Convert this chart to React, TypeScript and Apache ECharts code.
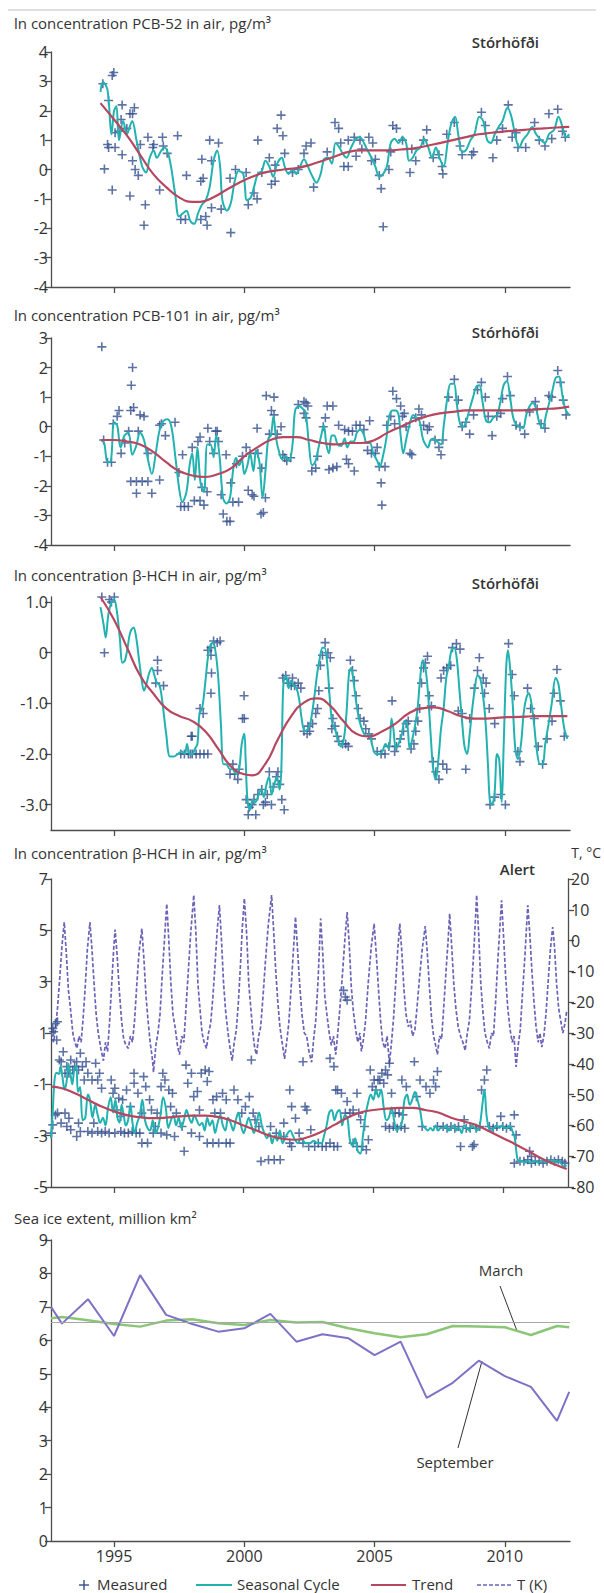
import React, { useEffect, useRef } from "react";
import * as echarts from "echarts";

// ---------- shared axis values ----------
const X_MIN = 1992.58;
const X_MAX = 2012.5;
const YEAR_TICKS = [1995, 2000, 2005, 2010];

// ---------- Panel 1: PCB-52, Stórhöfði ----------
const pcb52Measured = [
  [1994.57, 2.92], [1994.63, 0.02], [1994.75, 0.85], [1994.79, 0.75], [1994.93, -0.7], [1995.04, 0.75], [1994.93, 3.2], [1994.99, 3.3],
  [1994.79, 2.35], [1995.04, 1.25], [1995.27, 1.7], [1995.31, 2.2], [1995.19, 1.3], [1995.31, 0.5], [1995.49, 1.4], [1995.61, 1.9],
  [1995.78, 2.1], [1995.71, 1.9], [1995.61, -0.9], [1996.01, 0.85], [1995.71, 0.3], [1995.81, 0.0], [1996.3, 1.1], [1995.93, -0.2],
  [1996.2, -1.2], [1996.15, -1.9], [1996.52, 0.85], [1996.49, 0.75], [1996.86, 1.1], [1996.75, -0.7], [1996.89, 0.8], [1997.04, 0.55],
  [1997.44, 1.15], [1997.78, -0.2], [1997.56, -1.7], [1997.74, -1.7], [1998.37, 0.35], [1998.33, -0.4], [1998.33, -1.7], [1998.57, -1.9],
  [1998.52, -1.6], [1998.67, 1.0], [1999.01, 0.9], [1998.74, 0.3], [1998.74, -1.3], [1999.11, -1.35], [1998.42, -0.3], [1999.48, -2.15],
  [1999.45, -0.3], [1999.66, 0.0], [2000.15, -1.2], [2000.49, -1.0], [2000.37, -0.8], [2000.52, 1.0], [2000.07, -0.1], [2001.04, -0.5],
  [2000.67, -0.1], [2000.96, 0.4], [2001.18, 0.15], [2001.26, 1.4], [2001.41, 1.85], [2001.48, 1.15], [2001.55, 0.55], [2001.18, -0.4],
  [2002.37, 0.8], [2002.56, 0.9], [2002.66, -0.6], [2002.29, 0.55], [2001.85, -0.1], [2002.07, 0.0], [2003.48, 1.6], [2003.62, 1.4],
  [2003.18, 0.6], [2003.82, 0.1], [2003.99, 0.1], [2003.7, 0.9], [2003.99, 1.0], [2004.22, 1.1], [2004.44, 1.0], [2004.29, 0.45],
  [2004.78, 1.1], [2004.93, 0.9], [2004.51, 0.7], [2004.88, 0.3], [2005.03, 0.35], [2005.25, -0.65], [2005.33, -1.95], [2005.55, 0.0],
  [2005.18, -0.2], [2005.7, 1.5], [2005.84, 1.4], [2006.07, 1.0], [2005.62, 0.6], [2006.36, -0.1], [2006.58, 0.3], [2006.43, 0.7],
  [2007.0, 1.35], [2006.88, 1.0], [2007.25, 0.4], [2007.47, 0.5], [2007.59, 0.1], [2007.62, -0.15], [2007.77, 1.2], [2008.06, 1.6],
  [2008.28, 0.8], [2008.36, 0.5], [2008.73, 0.5], [2008.8, 0.6], [2009.1, 1.95], [2009.25, 1.5], [2009.54, 0.4], [2009.69, 1.0],
  [2009.91, 1.4], [2010.13, 2.2], [2010.28, 1.1], [2010.43, 1.25], [2010.5, 0.75], [2010.8, 0.75], [2011.14, 1.6], [2011.32, 1.0],
  [2011.54, 0.8], [2011.69, 1.9], [2012.03, 2.05], [2012.21, 1.3], [2012.32, 1.1], [2011.8, 1.05],
];
const pcb52Seasonal = [
  [1994.48, 2.64], [1994.57, 2.98], [1994.75, 2.7], [1994.9, 1.2], [1995.0, 2.0], [1995.09, 2.15], [1995.19, 1.0], [1995.35, 1.65],
  [1995.49, 1.2], [1995.64, 1.55], [1995.7, 1.65], [1995.86, 1.0], [1996.08, 0.1], [1996.23, -0.1], [1996.37, 0.4], [1996.52, 0.65],
  [1996.64, 0.4], [1996.82, 0.65], [1996.94, 0.75], [1997.12, 0.4], [1997.34, -0.8], [1997.49, -1.6], [1997.63, -1.5], [1997.78, -1.4],
  [1997.93, -1.75], [1998.08, -1.85], [1998.22, -1.5], [1998.37, -1.2], [1998.52, -1.05], [1998.67, -0.6], [1998.82, 0.3], [1998.96, 0.65],
  [1999.07, 0.1], [1999.16, -1.05], [1999.33, -1.4], [1999.48, -1.15], [1999.63, -0.4], [1999.78, -0.05], [1999.96, -0.15], [2000.1, -1.05],
  [2000.25, -0.95], [2000.37, -0.6], [2000.52, -0.15], [2000.67, -0.05], [2000.81, 0.3], [2000.96, 0.1], [2001.11, -0.25], [2001.26, 0.2],
  [2001.44, 0.4], [2001.55, 0.1], [2001.7, -0.15], [2001.85, 0.0], [2002.0, -0.15], [2002.14, 0.1], [2002.29, 0.35], [2002.44, 0.1],
  [2002.62, -0.25], [2002.77, -0.45], [2002.93, -0.15], [2003.06, 0.35], [2003.21, 0.4], [2003.36, 0.2], [2003.5, 0.9], [2003.65, 0.75],
  [2003.77, 0.55], [2003.92, 0.4], [2004.1, 0.75], [2004.29, 1.05], [2004.44, 1.1], [2004.59, 0.9], [2004.73, 0.65], [2004.88, 0.4],
  [2005.03, 0.1], [2005.18, -0.25], [2005.33, -0.15], [2005.47, 0.1], [2005.62, 0.9], [2005.77, 1.05], [2005.92, 0.9], [2006.07, 1.1],
  [2006.21, 0.9], [2006.32, 0.3], [2006.46, 0.4], [2006.61, 0.65], [2006.76, 0.75], [2006.9, 1.05], [2007.06, 0.75], [2007.21, 0.4],
  [2007.35, 0.75], [2007.49, 0.4], [2007.65, 0.1], [2007.8, 0.9], [2007.94, 1.55], [2008.09, 1.8], [2008.21, 1.2], [2008.36, 0.6],
  [2008.5, 0.65], [2008.68, 1.0], [2008.83, 1.2], [2009.02, 1.8], [2009.17, 1.65], [2009.32, 1.0], [2009.46, 0.9], [2009.61, 1.2],
  [2009.76, 1.45], [2009.91, 1.65], [2010.1, 2.1], [2010.25, 1.8], [2010.41, 1.1], [2010.55, 0.75], [2010.69, 1.0], [2010.87, 1.2],
  [2011.05, 1.45], [2011.2, 1.2], [2011.39, 1.0], [2011.54, 0.9], [2011.69, 1.2], [2011.89, 1.35], [2012.06, 1.8], [2012.21, 1.45],
  [2012.35, 1.1], [2012.47, 1.2],
];
const pcb52Trend = [
  [1994.48, 2.26], [1995.0, 1.7], [1995.5, 1.15], [1996.0, 0.5], [1996.5, -0.15], [1997.0, -0.6], [1997.5, -0.95], [1998.0, -1.1],
  [1998.3, -1.1], [1998.8, -0.95], [1999.3, -0.7], [1999.8, -0.45], [2000.3, -0.25], [2000.8, -0.1], [2001.5, 0.0], [2002.0, 0.05],
  [2002.5, 0.15], [2003.0, 0.3], [2003.5, 0.45], [2004.0, 0.6], [2004.5, 0.65], [2005.0, 0.65], [2005.5, 0.65], [2006.0, 0.68],
  [2006.5, 0.72], [2007.0, 0.8], [2007.5, 0.9], [2008.0, 1.0], [2008.5, 1.1], [2009.0, 1.2], [2009.5, 1.25], [2010.0, 1.3],
  [2010.5, 1.33], [2011.0, 1.37], [2011.5, 1.4], [2012.0, 1.43], [2012.47, 1.45],
];

// ---------- Panel 2: PCB-101, Stórhöfði ----------
const pcb101Measured = [
  [1994.53, 2.7], [1994.6, -0.45], [1994.75, -1.2], [1994.9, -1.2], [1994.97, 0.1], [1995.12, 0.35], [1995.19, 0.55], [1995.27, -0.9],
  [1995.41, -0.55], [1995.56, -0.15], [1995.64, 0.55], [1995.71, 2.0], [1995.66, 1.4], [1995.75, 0.65], [1995.64, -1.85], [1995.86, -1.85],
  [1996.08, -1.85], [1996.3, -1.85], [1995.86, -2.25], [1996.45, -2.25], [1995.93, -0.15], [1996.0, 0.4], [1996.15, 0.35], [1996.3, -0.9],
  [1996.75, -1.8], [1996.75, 0.05], [1996.82, 0.1], [1996.97, -0.3], [1997.34, 0.15], [1997.49, -1.55], [1997.63, -0.95], [1997.56, -2.7],
  [1997.7, -2.7], [1997.85, -2.7], [1998.0, -0.7], [1998.08, -2.5], [1998.22, -0.5], [1998.3, -0.35], [1998.3, -2.5], [1998.37, -2.05],
  [1998.45, -2.65], [1998.57, -2.2], [1998.6, -0.05], [1998.67, -0.5], [1998.82, -0.9], [1998.9, -0.15], [1998.96, -0.15], [1999.01, -0.5],
  [1999.11, -2.3], [1999.19, -2.95], [1999.3, -0.95], [1999.33, -3.2], [1999.45, -3.2], [1999.48, -1.9], [1999.56, -2.55], [1999.7, -1.25],
  [1999.78, -2.55], [1999.93, -1.0], [2000.07, -0.7], [2000.15, -2.15], [2000.3, -2.3], [2000.22, -0.9], [2000.37, -2.35], [2000.49, -0.05],
  [2000.52, -0.9], [2000.64, -2.95], [2000.73, -2.9], [2000.67, -1.4], [2000.81, -2.4], [2000.84, 1.05], [2001.14, 1.0], [2001.04, 0.55],
  [2001.14, 0.4], [2000.96, -0.25], [2001.26, -0.25], [2001.41, 0.0], [2001.48, -0.95], [2001.55, -1.05], [2001.63, -1.15], [2001.78, -1.05],
  [2002.07, 0.75], [2002.29, 0.85], [2002.37, 0.8], [2002.44, 0.7], [2002.29, 0.45], [2002.37, 0.3], [2002.59, -1.5], [2002.74, -1.4],
  [2002.81, -1.0], [2003.03, 0.0], [2003.11, 0.3], [2003.18, 0.7], [2003.4, 0.7], [2003.25, -1.45], [2003.4, -1.4], [2003.55, -1.35],
  [2003.62, 0.05], [2003.85, -0.1], [2004.0, -0.15], [2003.92, -1.1], [2004.0, -1.25], [2004.22, -1.5], [2004.15, -0.15], [2004.29, 0.05],
  [2004.44, 0.05], [2004.59, -0.1], [2004.81, 0.2], [2004.73, -0.8], [2004.88, -0.9], [2005.1, -0.7], [2005.03, -0.9], [2005.18, -1.35],
  [2005.25, -1.9], [2005.28, -2.65], [2005.4, -1.35], [2005.47, 0.05], [2005.62, 0.35], [2005.7, 1.2], [2005.84, 0.95], [2006.0, 0.7],
  [2006.14, 0.45], [2005.77, 0.1], [2006.07, 0.35], [2006.21, 0.0], [2006.36, -0.9], [2006.43, -0.95], [2006.58, 0.3], [2006.7, 0.6],
  [2006.8, 0.4], [2006.88, 0.05], [2007.03, -0.1], [2007.1, 0.0], [2007.32, -0.45], [2007.47, -0.7], [2007.55, -0.95], [2007.62, -0.45],
  [2007.84, 1.0], [2008.06, 1.6], [2008.21, 0.9], [2008.36, 0.0], [2008.5, 0.15], [2008.65, -0.25], [2008.8, 0.4], [2008.95, 1.25],
  [2009.1, 1.5], [2009.25, 1.0], [2009.36, 0.35], [2009.51, -0.3], [2009.69, 0.35], [2009.84, 0.45], [2009.91, 0.95], [2010.1, 1.7],
  [2010.21, 1.05], [2010.43, 0.05], [2010.58, 0.0], [2010.76, -0.25], [2010.95, 0.5], [2011.17, 0.85], [2011.24, 0.6], [2011.39, 0.1],
  [2011.54, -0.05], [2011.69, 1.05], [2011.8, 1.0], [2012.03, 1.9], [2012.13, 1.5], [2012.24, 0.9], [2012.35, 0.4],
];
const pcb101Seasonal = [
  [1994.5, -0.45], [1994.62, -0.55], [1994.75, -1.2], [1994.88, -1.15], [1995.0, 0.15], [1995.12, 0.05], [1995.25, -0.7], [1995.4, -0.3],
  [1995.55, -0.2], [1995.7, -0.95], [1995.85, -0.65], [1996.0, -0.2], [1996.15, -0.45], [1996.3, -1.1], [1996.45, -1.6], [1996.6, -0.9],
  [1996.75, -0.1], [1996.9, 0.2], [1997.05, 0.25], [1997.2, 0.0], [1997.35, -1.0], [1997.5, -2.1], [1997.62, -2.55], [1997.78, -2.2],
  [1997.9, -1.3], [1998.0, -0.9], [1998.1, -1.8], [1998.2, -0.7], [1998.32, -1.9], [1998.45, -2.2], [1998.58, -0.6], [1998.7, -0.6],
  [1998.82, -1.0], [1998.92, -0.3], [1999.05, -1.0], [1999.18, -2.4], [1999.32, -2.6], [1999.45, -2.4], [1999.58, -1.4], [1999.68, -1.05],
  [1999.8, -1.3], [1999.9, -1.1], [2000.0, -1.6], [2000.12, -1.3], [2000.22, -0.9], [2000.35, -1.5], [2000.45, -0.8], [2000.58, -1.2],
  [2000.7, -2.4], [2000.82, -1.4], [2000.92, -0.4], [2001.02, -0.3], [2001.12, 0.35], [2001.22, -0.4], [2001.35, -0.9], [2001.45, -1.1],
  [2001.58, -1.0], [2001.72, -1.15], [2001.85, -0.6], [2001.95, 0.55], [2002.1, 0.7], [2002.25, 0.6], [2002.35, 0.5], [2002.48, -0.6],
  [2002.6, -1.3], [2002.72, -1.2], [2002.85, -0.7], [2002.95, -0.3], [2003.05, 0.05], [2003.15, -0.6], [2003.25, -0.9], [2003.35, -0.3],
  [2003.45, -0.3], [2003.58, -0.6], [2003.72, -0.65], [2003.85, -0.4], [2003.95, -0.7], [2004.08, -0.5], [2004.2, -0.5], [2004.32, -0.2],
  [2004.45, -0.1], [2004.58, -0.25], [2004.7, -0.55], [2004.82, -0.55], [2004.95, -0.9], [2005.1, -1.15], [2005.2, -1.35], [2005.32, -1.0],
  [2005.45, -0.4], [2005.55, 0.3], [2005.68, 0.55], [2005.8, 0.55], [2005.92, 0.4], [2006.0, -0.3], [2006.1, -0.9], [2006.22, -0.4],
  [2006.35, 0.1], [2006.48, 0.4], [2006.6, 0.3], [2006.72, 0.2], [2006.85, -0.4], [2006.95, -0.6], [2007.05, -0.7], [2007.15, -0.45],
  [2007.28, -0.4], [2007.4, -0.5], [2007.55, -0.6], [2007.65, 0.0], [2007.78, 0.9], [2007.92, 1.45], [2008.05, 1.45], [2008.15, 0.8],
  [2008.28, 0.1], [2008.4, 0.0], [2008.52, 0.2], [2008.65, 0.6], [2008.78, 1.0], [2008.9, 1.35], [2009.02, 1.4], [2009.15, 0.8],
  [2009.28, 0.2], [2009.42, 0.15], [2009.55, 0.3], [2009.7, 0.4], [2009.82, 0.8], [2009.95, 1.4], [2010.08, 1.55], [2010.2, 1.0],
  [2010.32, 0.3], [2010.45, 0.05], [2010.58, 0.0], [2010.7, -0.05], [2010.82, 0.4], [2010.95, 0.7], [2011.08, 0.8], [2011.2, 0.6],
  [2011.32, 0.15], [2011.45, -0.05], [2011.58, 0.4], [2011.7, 0.8], [2011.82, 1.2], [2011.95, 1.65], [2012.08, 1.7], [2012.2, 1.1],
  [2012.32, 0.6], [2012.47, 0.4],
];
const pcb101Trend = [
  [1994.5, -0.45], [1995.0, -0.45], [1995.5, -0.5], [1996.0, -0.6], [1996.5, -0.85], [1997.0, -1.2], [1997.5, -1.5], [1998.0, -1.65],
  [1998.5, -1.7], [1999.0, -1.6], [1999.5, -1.4], [2000.0, -1.0], [2000.5, -0.7], [2001.0, -0.45], [2001.5, -0.35], [2002.0, -0.35],
  [2002.5, -0.45], [2003.0, -0.55], [2003.5, -0.6], [2004.0, -0.55], [2004.5, -0.55], [2005.0, -0.45], [2005.5, -0.2], [2006.0, 0.0],
  [2006.5, 0.2], [2007.0, 0.35], [2007.5, 0.45], [2008.0, 0.5], [2008.5, 0.55], [2009.0, 0.55], [2009.5, 0.55], [2010.0, 0.55],
  [2010.5, 0.55], [2011.0, 0.57], [2011.5, 0.6], [2012.0, 0.62], [2012.47, 0.68],
];

// ---------- Panel 3: beta-HCH, Stórhöfði ----------
const hchStorMeasured = [
  [1994.53, 1.1], [1994.63, 0.0], [1994.82, 1.05], [1994.9, 1.0], [1995.01, 1.1], [1996.67, -0.15], [1996.67, -0.35], [1996.6, -0.6],
  [1996.9, -0.65], [1998.3, -1.1], [1998.42, -1.2], [1997.96, -1.65], [1998.0, -1.65], [1997.56, -2.0], [1997.7, -2.0], [1997.85, -2.0],
  [1998.0, -2.0], [1998.15, -2.0], [1998.3, -2.0], [1998.45, -2.0], [1998.6, -2.0], [1997.93, -2.0], [1998.6, 0.05], [1998.72, 0.1],
  [1998.82, 0.23], [1998.96, 0.2], [1999.07, 0.23], [1998.72, -0.05], [1998.74, -0.4], [1998.72, -0.8], [1999.56, -2.2], [1999.63, -2.4],
  [1999.45, -2.4], [1999.8, -2.3], [1999.75, -2.5], [1999.99, -0.85], [1999.93, -1.3], [2000.0, -1.3], [2000.07, -2.9], [2000.19, -3.05],
  [2000.15, -3.2], [2000.3, -3.0], [2000.37, -2.9], [2000.44, -3.2], [2000.52, -2.8], [2000.67, -2.7], [2000.73, -3.0], [2000.81, -2.95],
  [2000.88, -2.8], [2000.96, -2.35], [2001.04, -3.0], [2001.11, -2.65], [2001.23, -2.45], [2001.29, -2.35], [2001.36, -2.6], [2001.44, -2.9],
  [2001.53, -3.1], [2001.48, -0.5], [2001.59, -0.45], [2001.7, -0.6], [2001.8, -0.65], [2001.85, -0.5], [2001.93, -0.65], [2002.07, -0.6],
  [2002.17, -0.7], [2002.29, -1.55], [2002.41, -1.6], [2002.51, -1.55], [2002.44, -1.45], [2002.62, -1.4], [2002.74, -1.2], [2002.81, -1.1],
  [2002.86, -0.75], [2002.92, -0.25], [2003.0, -0.05], [2003.1, 0.2], [2003.21, 0.0], [2003.3, -0.1], [2003.25, -0.7], [2003.4, -1.3],
  [2003.36, -1.5], [2003.48, -1.45], [2003.57, -1.65], [2003.62, -1.75], [2003.77, -1.8], [2003.89, -1.8], [2003.99, -1.85], [2004.07, -0.15],
  [2004.15, -0.35], [2004.22, -0.55], [2004.29, -0.85], [2004.37, -1.1], [2004.44, -1.3], [2004.59, -1.35], [2004.66, -1.5], [2004.78, -1.6],
  [2004.88, -1.7], [2005.1, -1.95], [2005.25, -2.0], [2005.4, -2.0], [2005.55, -1.85], [2005.67, -0.95], [2005.77, -1.95], [2005.84, -1.85],
  [2005.99, -1.7], [2006.11, -1.55], [2006.21, -1.4], [2006.29, -1.35], [2006.4, -1.9], [2006.51, -1.8], [2006.58, -1.55], [2006.66, -1.35],
  [2006.73, -1.1], [2006.8, -0.6], [2006.88, -0.3], [2006.95, -0.2], [2007.03, -0.07], [2007.1, -0.85], [2007.18, -1.05], [2007.25, -2.15],
  [2007.35, -2.35], [2007.47, -2.5], [2007.62, -2.2], [2007.77, -2.3], [2007.55, -0.5], [2007.65, -0.35], [2007.77, -0.3], [2007.92, -0.25],
  [2007.99, 0.1], [2008.14, 0.18], [2008.28, 0.07], [2008.21, -1.15], [2008.36, -1.2], [2008.5, -2.3], [2008.65, -1.3], [2008.83, -0.7],
  [2008.95, -0.35], [2009.02, -0.1], [2009.17, -0.5], [2009.28, -0.6], [2009.22, -0.8], [2009.4, -1.1], [2009.61, -1.4], [2009.43, -3.0],
  [2009.61, -2.85], [2009.84, -2.8], [2010.02, -3.0], [2010.14, 0.18], [2010.28, -0.43], [2010.36, -0.85], [2010.5, -1.95], [2010.58, -2.15],
  [2010.87, -0.7], [2010.99, -1.1], [2011.13, -1.3], [2011.28, -1.85], [2011.45, -2.2], [2011.62, -1.7], [2011.81, -1.35], [2011.89, -0.8],
  [2012.0, -0.33], [2012.13, -0.95], [2012.28, -1.65],
];
const hchStorSeasonal = [
  [1994.48, 0.9], [1994.6, 0.55], [1994.68, 0.3], [1994.78, 0.75], [1994.9, 1.0], [1995.0, 1.05], [1995.1, 0.85], [1995.22, 0.3],
  [1995.32, -0.2], [1995.42, -0.15], [1995.52, 0.1], [1995.62, 0.4], [1995.75, 0.5], [1995.85, 0.3], [1995.95, -0.1], [1996.05, -0.5],
  [1996.15, -0.75], [1996.25, -0.6], [1996.35, -0.4], [1996.45, -0.3], [1996.55, -0.45], [1996.65, -0.6], [1996.75, -0.65], [1996.85, -0.95],
  [1997.0, -1.6], [1997.15, -2.05], [1997.3, -2.05], [1997.45, -2.0], [1997.6, -1.95], [1997.72, -2.0], [1997.8, -1.8], [1997.9, -2.0],
  [1998.0, -2.0], [1998.1, -1.9], [1998.2, -1.8], [1998.28, -1.2], [1998.38, -1.1], [1998.5, -0.6], [1998.6, -0.1], [1998.7, 0.15],
  [1998.8, 0.2], [1998.9, 0.0], [1999.0, -0.5], [1999.1, -1.4], [1999.2, -2.2], [1999.3, -2.2], [1999.45, -2.3], [1999.55, -2.3],
  [1999.68, -2.4], [1999.8, -2.3], [1999.9, -1.8], [2000.0, -1.6], [2000.05, -2.1], [2000.12, -2.9], [2000.22, -3.1], [2000.32, -2.9],
  [2000.42, -2.95], [2000.55, -2.8], [2000.65, -2.7], [2000.75, -2.85], [2000.85, -2.6], [2000.95, -2.45], [2001.05, -2.8], [2001.15, -2.6],
  [2001.25, -2.45], [2001.35, -2.7], [2001.42, -2.3], [2001.5, -0.6], [2001.6, -0.45], [2001.7, -0.7], [2001.8, -0.55], [2001.9, -0.65],
  [2002.0, -0.7], [2002.1, -0.9], [2002.2, -1.3], [2002.32, -1.55], [2002.45, -1.5], [2002.55, -1.35], [2002.68, -0.9], [2002.8, -0.4],
  [2002.9, -0.1], [2003.0, 0.1], [2003.08, 0.1], [2003.18, -0.2], [2003.28, -0.9], [2003.38, -1.4], [2003.48, -1.5], [2003.58, -1.7],
  [2003.7, -1.85], [2003.82, -1.7], [2003.92, -1.2], [2004.02, -0.4], [2004.1, -0.3], [2004.2, -0.6], [2004.3, -1.0], [2004.42, -1.35],
  [2004.55, -1.55], [2004.68, -1.65], [2004.8, -1.6], [2004.92, -1.85], [2005.05, -2.0], [2005.18, -2.0], [2005.3, -1.95], [2005.42, -1.8],
  [2005.55, -1.9], [2005.65, -1.3], [2005.72, -1.5], [2005.82, -1.9], [2005.92, -1.8], [2006.05, -1.6], [2006.15, -1.35], [2006.25, -1.4],
  [2006.35, -1.9], [2006.45, -1.7], [2006.55, -1.45], [2006.65, -1.1], [2006.75, -0.5], [2006.85, -0.15], [2006.95, -0.3], [2007.05, -0.8],
  [2007.15, -1.6], [2007.25, -2.3], [2007.35, -2.5], [2007.45, -2.1], [2007.55, -1.5], [2007.65, -1.1], [2007.75, -0.5], [2007.85, -0.25],
  [2007.95, 0.05], [2008.05, 0.1], [2008.15, -0.1], [2008.25, -0.7], [2008.35, -1.3], [2008.45, -1.85], [2008.55, -2.0], [2008.65, -1.6],
  [2008.75, -1.1], [2008.85, -0.7], [2008.95, -0.45], [2009.05, -0.5], [2009.15, -0.8], [2009.25, -1.3], [2009.35, -2.2], [2009.42, -2.9],
  [2009.5, -3.0], [2009.6, -2.8], [2009.7, -2.0], [2009.78, -2.1], [2009.88, -2.95], [2009.95, -1.9], [2010.05, -0.3], [2010.12, 0.05],
  [2010.2, -0.3], [2010.3, -1.0], [2010.4, -1.9], [2010.5, -2.1], [2010.62, -1.8], [2010.72, -1.2], [2010.82, -0.9], [2010.92, -0.8],
  [2011.02, -1.0], [2011.12, -1.4], [2011.22, -1.9], [2011.35, -2.2], [2011.45, -2.2], [2011.55, -1.8], [2011.68, -1.4], [2011.8, -1.0],
  [2011.95, -0.5], [2012.05, -0.6], [2012.15, -1.0], [2012.28, -1.5], [2012.4, -1.7],
];
const hchStorTrend = [
  [1994.48, 1.1], [1995.0, 0.65], [1995.5, 0.1], [1996.0, -0.45], [1996.5, -0.8], [1997.0, -1.1], [1997.5, -1.25], [1998.0, -1.35],
  [1998.5, -1.55], [1999.0, -1.9], [1999.5, -2.25], [2000.0, -2.4], [2000.3, -2.42], [2000.8, -2.2], [2001.3, -1.7], [2001.8, -1.25],
  [2002.3, -0.98], [2002.8, -0.9], [2003.3, -1.05], [2003.8, -1.35], [2004.3, -1.6], [2004.8, -1.65], [2005.3, -1.55], [2005.8, -1.4],
  [2006.3, -1.2], [2006.8, -1.1], [2007.3, -1.08], [2007.8, -1.15], [2008.3, -1.25], [2008.8, -1.3], [2009.3, -1.3], [2009.8, -1.28],
  [2010.3, -1.27], [2010.8, -1.26], [2011.3, -1.25], [2011.8, -1.25], [2012.4, -1.25],
];

// ---------- Panel 4: beta-HCH, Alert, with air temperature ----------
const hchAlertMeasured = [
  [1992.6, -2.9], [1992.65, -2.58], [1992.75, -2.19], [1992.83, 1.44], [1992.68, 1.05], [1992.8, 0.73], [1992.75, 1.37], [1992.65, 1.18],
  [1992.9, -0.05], [1992.97, -0.12], [1993.05, 0.27], [1993.12, -0.57], [1993.19, -0.31], [1993.27, -0.57], [1993.34, -0.05], [1993.42, -0.44],
  [1993.49, -0.31], [1993.57, -0.12], [1993.64, -0.44], [1993.71, 0.21], [1993.79, -0.31], [1993.86, -0.83], [1993.93, -0.12], [1994.0, -0.57],
  [1994.16, -0.83], [1994.3, -0.18], [1994.38, -0.83], [1994.45, -0.57], [1994.53, -1.15], [1992.83, -2.12], [1992.97, -2.51], [1993.12, -2.12],
  [1993.19, -2.64], [1993.27, -2.32], [1993.34, -2.77], [1993.57, -3.03], [1993.64, -2.51], [1993.71, -2.84], [1994.0, -2.84], [1994.16, -2.9],
  [1994.23, -2.51], [1994.38, -2.84], [1994.53, -2.9], [1994.67, -2.84], [1994.82, -2.9], [1994.9, -0.83], [1994.97, -1.35], [1995.04, -1.15],
  [1995.12, -2.0], [1995.19, -1.54], [1995.27, -2.25], [1995.34, -1.6], [1995.04, -2.9], [1995.27, -2.84], [1995.41, -2.9], [1995.56, -2.9],
  [1995.71, -2.84], [1995.86, -2.9], [1996.0, -2.9], [1996.08, -3.29], [1996.3, -3.29], [1995.49, -1.22], [1995.64, -1.87], [1995.78, -0.57],
  [1995.78, -0.96], [1995.93, -1.35], [1996.08, -2.12], [1996.15, -0.7], [1996.23, -1.09], [1996.38, -1.6], [1996.45, -2.0], [1996.6, -2.64],
  [1996.67, -2.12], [1996.82, -1.09], [1996.89, -0.57], [1996.97, -0.83], [1997.12, -1.22], [1997.19, -1.87], [1996.52, -2.9], [1996.82, -2.9],
  [1997.04, -2.97], [1997.34, -3.03], [1997.71, -3.61], [1997.26, -1.35], [1997.41, -2.12], [1997.63, -2.64], [1997.78, -0.25], [1997.85, -0.96],
  [1997.99, -0.57], [1998.08, -1.48], [1998.22, -1.28], [1998.3, -2.0], [1998.37, -0.57], [1998.52, -0.44], [1998.6, -0.89], [1998.67, -0.5],
  [1998.82, -1.6], [1998.89, -2.12], [1998.96, -1.48], [1999.11, -2.12], [1999.19, -1.35], [1999.33, -1.6], [1997.99, -2.9], [1998.3, -3.03],
  [1998.6, -3.29], [1998.82, -3.29], [1999.04, -3.29], [1999.33, -3.29], [1999.48, -3.29], [1999.63, -1.22], [1999.78, -1.6], [1999.93, -2.12],
  [2000.07, -1.87], [2000.22, -1.48], [2000.37, -2.12], [2000.3, -0.05], [2000.44, -2.38], [2000.59, -2.64], [2000.67, -4.0], [2000.96, -3.94],
  [2001.18, -3.94], [2001.41, -3.94], [2001.26, -2.9], [2001.04, -2.64], [2001.55, -2.51], [2001.78, -1.22], [2001.85, -1.87], [2002.0, -2.32],
  [2002.14, -2.9], [2002.29, -0.12], [2002.37, -1.87], [2002.44, -2.0], [2002.59, -2.77], [2002.74, -3.42], [2002.88, -3.29], [2003.03, -3.42],
  [2003.18, -3.42], [2003.33, -3.29], [2003.48, -3.42], [2003.62, -3.42], [2001.78, -3.29], [2001.55, -3.03], [2001.85, -3.42], [2002.29, -3.29],
  [2002.51, -3.42], [2003.33, 0.01], [2003.48, -0.31], [2003.55, -1.22], [2003.62, -1.22], [2003.77, -1.35], [2003.92, -2.12], [2003.99, -1.67],
  [2004.1, -2.12], [2004.22, -2.0], [2004.37, -1.35], [2004.44, -2.12], [2003.85, 2.66], [2003.92, 2.4], [2003.99, 2.28], [2004.22, -3.29],
  [2004.37, -3.42], [2004.59, -3.42], [2004.73, -3.55], [2004.81, -3.16], [2004.51, -2.38], [2004.66, -2.64], [2004.88, -0.44], [2005.03, -0.83],
  [2004.96, -1.09], [2005.1, -1.22], [2005.18, -0.83], [2005.25, -0.83], [2005.33, -0.57], [2005.4, -0.96], [2005.47, -0.44], [2005.55, -0.63],
  [2005.62, -0.18], [2005.7, -1.35], [2005.47, -2.64], [2005.62, -2.71], [2005.77, -2.64], [2005.92, -2.71], [2006.07, -2.64], [2006.21, -2.71],
  [2005.84, -2.12], [2005.99, -2.12], [2006.14, -2.19], [2006.1, -0.83], [2006.27, -1.09], [2006.58, -0.12], [2006.66, -1.48], [2006.8, -0.83],
  [2006.88, -2.64], [2007.03, -1.09], [2007.18, -1.35], [2007.32, -0.83], [2007.4, -1.09], [2007.47, -0.5], [2007.47, -2.64], [2007.69, -2.64],
  [2007.84, -2.71], [2007.99, -2.64], [2008.14, -2.71], [2008.28, -2.64], [2008.36, -3.42], [2008.5, -2.38], [2008.58, -2.71], [2008.73, -2.71],
  [2008.82, -3.42], [2008.96, -2.71], [2009.1, -2.64], [2009.17, -1.22], [2009.28, -0.83], [2009.37, -0.44], [2009.47, -2.64], [2009.62, -2.71],
  [2009.76, -2.64], [2009.91, -2.25], [2009.99, -2.64], [2010.13, -2.71], [2010.28, -2.64], [2010.43, -2.19], [2010.5, -2.97], [2010.43, -4.07],
  [2010.65, -4.0], [2010.8, -4.0], [2010.95, -3.94], [2011.09, -4.07], [2011.24, -4.0], [2011.39, -4.0], [2011.54, -4.07], [2011.69, -4.0],
  [2011.84, -3.94], [2011.98, -4.0], [2012.13, -3.94], [2012.28, -4.0], [2012.38, -4.07], [2011.02, -3.61], [2011.09, -3.81], [2008.88, -3.35],
];
const hchAlertSeasonal = [
  [1992.58, -3.1], [1992.65, -2.0], [1992.72, -0.8], [1992.8, -0.55], [1992.88, -0.6], [1992.95, -0.3], [1993.02, -0.7], [1993.1, -1.2],
  [1993.18, -0.9], [1993.25, -0.2], [1993.33, -0.6], [1993.4, -1.0], [1993.48, -0.4], [1993.55, -0.3], [1993.62, -1.3], [1993.7, -1.1],
  [1993.8, -2.4], [1993.9, -2.3], [1994.0, -1.4], [1994.08, -1.6], [1994.18, -2.3], [1994.28, -1.8], [1994.38, -2.2], [1994.48, -2.5],
  [1994.58, -2.3], [1994.68, -2.6], [1994.78, -1.9], [1994.88, -1.5], [1994.97, -2.1], [1995.06, -1.6], [1995.14, -2.3], [1995.22, -2.5],
  [1995.3, -1.8], [1995.38, -2.2], [1995.46, -2.6], [1995.55, -2.4], [1995.64, -1.8], [1995.72, -2.5], [1995.8, -2.9], [1995.9, -2.5],
  [1996.0, -2.2], [1996.1, -1.6], [1996.2, -2.4], [1996.3, -2.7], [1996.4, -2.8], [1996.5, -2.4], [1996.6, -2.9], [1996.7, -2.7],
  [1996.8, -2.2], [1996.9, -1.5], [1997.0, -1.9], [1997.1, -2.7], [1997.2, -2.4], [1997.3, -2.2], [1997.4, -2.6], [1997.5, -2.3],
  [1997.6, -2.7], [1997.7, -2.4], [1997.8, -2.0], [1997.9, -2.3], [1998.0, -2.5], [1998.1, -2.2], [1998.2, -2.4], [1998.3, -2.6],
  [1998.4, -2.5], [1998.5, -2.8], [1998.6, -2.3], [1998.7, -2.6], [1998.8, -2.4], [1998.9, -2.9], [1999.0, -2.5], [1999.1, -2.2],
  [1999.2, -2.6], [1999.3, -2.8], [1999.4, -2.3], [1999.5, -2.5], [1999.6, -2.8], [1999.7, -2.4], [1999.8, -2.1], [1999.9, -2.6],
  [2000.0, -2.9], [2000.1, -2.6], [2000.2, -2.3], [2000.3, -2.6], [2000.4, -2.9], [2000.5, -2.5], [2000.6, -2.1], [2000.7, -2.6],
  [2000.8, -2.9], [2000.9, -3.1], [2001.0, -2.9], [2001.1, -3.3], [2001.2, -3.0], [2001.3, -3.2], [2001.4, -2.8], [2001.5, -3.3],
  [2001.6, -3.1], [2001.7, -2.9], [2001.8, -2.8], [2001.9, -3.0], [2002.0, -3.2], [2002.1, -3.3], [2002.2, -3.1], [2002.3, -3.2],
  [2002.4, -3.3], [2002.55, -3.3], [2002.7, -3.2], [2002.85, -3.3], [2003.0, -3.3], [2003.1, -3.0], [2003.2, -2.6], [2003.3, -2.1],
  [2003.4, -2.0], [2003.5, -2.4], [2003.6, -2.1], [2003.7, -2.0], [2003.8, -2.6], [2003.9, -2.2], [2004.0, -2.3], [2004.1, -3.2],
  [2004.2, -3.4], [2004.3, -3.1], [2004.4, -3.6], [2004.5, -3.7], [2004.6, -3.0], [2004.7, -2.2], [2004.8, -1.7], [2004.9, -1.4],
  [2005.0, -1.6], [2005.1, -1.2], [2005.2, -1.5], [2005.3, -1.2], [2005.4, -1.9], [2005.5, -2.4], [2005.6, -2.3], [2005.7, -1.9],
  [2005.8, -2.4], [2005.9, -2.8], [2006.0, -2.7], [2006.1, -2.5], [2006.2, -1.6], [2006.3, -1.4], [2006.4, -1.8], [2006.5, -1.6],
  [2006.6, -1.3], [2006.7, -1.6], [2006.8, -2.0], [2006.9, -2.6], [2007.0, -2.7], [2007.1, -2.8], [2007.2, -2.7], [2007.3, -2.8],
  [2007.4, -2.6], [2007.5, -2.8], [2007.6, -2.7], [2007.7, -2.7], [2007.8, -2.6], [2007.9, -2.8], [2008.0, -2.7], [2008.1, -2.6],
  [2008.2, -2.8], [2008.3, -2.7], [2008.4, -2.9], [2008.5, -2.6], [2008.6, -2.7], [2008.7, -2.8], [2008.8, -2.6], [2008.9, -2.7],
  [2009.0, -2.8], [2009.1, -2.6], [2009.2, -1.8], [2009.28, -1.2], [2009.36, -2.2], [2009.45, -2.7], [2009.55, -2.8], [2009.65, -2.7],
  [2009.75, -2.6], [2009.85, -2.7], [2009.95, -2.6], [2010.05, -2.7], [2010.15, -2.7], [2010.25, -2.6], [2010.35, -2.8], [2010.45, -3.1],
  [2010.55, -3.9], [2010.65, -4.0], [2010.75, -4.0], [2010.85, -4.05], [2010.95, -4.0], [2011.05, -4.05], [2011.15, -4.0], [2011.25, -4.0],
  [2011.35, -4.05], [2011.45, -4.0], [2011.55, -4.0], [2011.65, -4.05], [2011.75, -3.95], [2011.85, -4.0], [2011.95, -3.95], [2012.05, -4.05],
  [2012.15, -4.0], [2012.25, -4.1], [2012.35, -4.2], [2012.45, -4.15],
];
const hchAlertTrend = [
  [1992.6, -1.09], [1993.0, -1.15], [1993.5, -1.35], [1994.0, -1.6], [1994.5, -1.85], [1995.0, -2.05], [1995.5, -2.2], [1996.0, -2.28],
  [1996.5, -2.32], [1997.0, -2.3], [1997.5, -2.25], [1998.0, -2.22], [1998.5, -2.22], [1999.0, -2.27], [1999.5, -2.4], [2000.0, -2.6],
  [2000.5, -2.8], [2001.0, -3.0], [2001.5, -3.12], [2002.0, -3.16], [2002.5, -3.05], [2003.0, -2.85], [2003.5, -2.58], [2004.0, -2.3],
  [2004.5, -2.1], [2005.0, -2.0], [2005.5, -1.95], [2006.0, -1.92], [2006.5, -1.92], [2007.0, -2.0], [2007.5, -2.1], [2008.0, -2.3],
  [2008.5, -2.45], [2009.0, -2.6], [2009.5, -2.85], [2010.0, -3.1], [2010.5, -3.35], [2011.0, -3.62], [2011.5, -3.9], [2012.0, -4.12],
  [2012.45, -4.3],
];
const alertTemp = [
  [1992.6, -30], [1992.68, -33], [1992.75, -29], [1992.83, -22], [1992.92, -12], [1993.0, -2], [1993.09, 6], [1993.17, -4],
  [1993.25, -16], [1993.33, -22], [1993.42, -30], [1993.5, -33], [1993.58, -35], [1993.66, -31], [1993.74, -33], [1993.82, -25],
  [1993.9, -15], [1993.98, -3], [1994.08, 6], [1994.16, -3], [1994.24, -14], [1994.32, -24], [1994.4, -30], [1994.5, -35],
  [1994.6, -39], [1994.68, -33], [1994.76, -36], [1994.84, -26], [1994.92, -14], [1995.0, -2], [1995.05, 3.6], [1995.13, -5],
  [1995.21, -16], [1995.3, -26], [1995.38, -32], [1995.47, -34], [1995.56, -35], [1995.64, -31], [1995.72, -33], [1995.8, -26],
  [1995.88, -15], [1995.97, -4], [1996.08, 3.9], [1996.16, -6], [1996.24, -18], [1996.32, -26], [1996.4, -33], [1996.48, -38],
  [1996.53, -42.7], [1996.62, -34], [1996.7, -30], [1996.78, -24], [1996.86, -12], [1996.95, 0], [1997.04, 12], [1997.12, 0],
  [1997.2, -14], [1997.28, -24], [1997.36, -28], [1997.45, -34], [1997.53, -37], [1997.62, -31], [1997.7, -33], [1997.78, -22],
  [1997.87, -10], [1997.96, 2], [1998.08, 14.8], [1998.16, 3], [1998.24, -14], [1998.32, -22], [1998.4, -30], [1998.48, -33],
  [1998.57, -35], [1998.65, -30], [1998.73, -27], [1998.82, -18], [1998.9, -8], [1998.98, 3], [1999.07, 11.5], [1999.15, 0],
  [1999.23, -14], [1999.31, -23], [1999.4, -30], [1999.48, -35], [1999.56, -39], [1999.64, -33], [1999.72, -29], [1999.8, -20],
  [1999.88, -8], [1999.95, 4], [2000.03, 13.7], [2000.12, 2], [2000.2, -14], [2000.28, -22], [2000.36, -30], [2000.43, -35],
  [2000.5, -37], [2000.58, -31], [2000.66, -28], [2000.75, -18], [2000.84, -7], [2000.95, 5], [2001.08, 14.8], [2001.16, 3],
  [2001.24, -10], [2001.32, -20], [2001.4, -28], [2001.5, -34], [2001.58, -38.4], [2001.66, -33], [2001.74, -27], [2001.82, -17],
  [2001.9, -6], [2002.0, 7.7], [2002.08, -3], [2002.16, -14], [2002.25, -24], [2002.34, -30], [2002.43, -31], [2002.52, -36],
  [2002.62, -39.5], [2002.7, -32], [2002.78, -26], [2002.87, -13], [2002.97, 7.2], [2003.05, -4], [2003.13, -18], [2003.21, -24],
  [2003.3, -30], [2003.38, -34], [2003.46, -31], [2003.55, -37], [2003.63, -30], [2003.71, -22], [2003.8, -12], [2003.9, 0],
  [2003.99, 9.3], [2004.07, -1], [2004.15, -15], [2004.23, -23], [2004.32, -29], [2004.4, -33], [2004.48, -30], [2004.54, -36],
  [2004.62, -32], [2004.7, -26], [2004.8, -14], [2004.92, -2], [2005.03, 5.5], [2005.11, -4], [2005.2, -16], [2005.28, -26],
  [2005.36, -33], [2005.45, -35], [2005.53, -31], [2005.62, -40], [2005.7, -33], [2005.78, -25], [2005.86, -14], [2005.94, -3],
  [2006.02, 5.5], [2006.1, -4], [2006.18, -16], [2006.26, -24], [2006.35, -28], [2006.43, -26], [2006.51, -31], [2006.6, -29],
  [2006.68, -22], [2006.77, -13], [2006.88, -3], [2007.0, 4.7], [2007.08, -4], [2007.16, -15], [2007.24, -25], [2007.32, -31],
  [2007.4, -34], [2007.47, -37], [2007.55, -31], [2007.63, -32], [2007.71, -22], [2007.8, -10], [2007.88, 0], [2007.94, 8.8],
  [2008.02, -2], [2008.1, -14], [2008.18, -22], [2008.27, -28], [2008.36, -31], [2008.45, -33], [2008.54, -35.7], [2008.62, -30],
  [2008.7, -26], [2008.78, -16], [2008.88, -2], [2008.98, 14.8], [2009.06, 2], [2009.14, -14], [2009.22, -23], [2009.3, -30],
  [2009.39, -33], [2009.47, -35], [2009.55, -30], [2009.63, -31], [2009.71, -20], [2009.8, -6], [2009.88, 5], [2009.94, 13.1],
  [2010.02, 1], [2010.1, -12], [2010.18, -22], [2010.27, -29], [2010.35, -33], [2010.42, -31], [2010.5, -41], [2010.58, -34],
  [2010.66, -29], [2010.74, -18], [2010.84, -5], [2010.95, 11.5], [2011.03, 2], [2011.11, -10], [2011.19, -20], [2011.27, -28],
  [2011.35, -33], [2011.42, -30], [2011.49, -34.6], [2011.57, -31], [2011.65, -24], [2011.73, -14], [2011.82, -3], [2011.91, 4.4],
  [2011.98, -2], [2012.06, -14], [2012.14, -22], [2012.22, -26], [2012.3, -30], [2012.38, -27], [2012.45, -23],
];

// ---------- Panel 5: Arctic sea ice extent ----------
const iceYears = [1992.58, 1993, 1994, 1995, 1996, 1997, 1998, 1999, 2000, 2001, 2002, 2003, 2004, 2005, 2006, 2007, 2008, 2009, 2010, 2011, 2012, 2012.47];
const iceMarch = [6.66, 6.7, 6.6, 6.49, 6.41, 6.59, 6.63, 6.51, 6.46, 6.61, 6.53, 6.55, 6.36, 6.21, 6.09, 6.18, 6.43, 6.41, 6.39, 6.16, 6.43, 6.39];
const iceSeptember = [7.0, 6.5, 7.23, 6.13, 7.95, 6.76, 6.49, 6.26, 6.36, 6.79, 5.96, 6.18, 6.06, 5.56, 5.96, 4.28, 4.73, 5.39, 4.93, 4.61, 3.59, 4.46];
const iceReference = 6.54;

// ---------- styles ----------
const FONT = '"Open Sans", "Noto Sans", sans-serif';
const AXIS_COLOR = "#4d4d4d";
const TEXT_COLOR = "#333333";
const MEASURED_COLOR = "#34508f";
const SEASONAL_COLOR = "#22b2b0";
const TREND_COLOR = "#b6475f";
const TEMP_COLOR = "#6a63b8";
const MARCH_COLOR = "#8bc677";
const SEPT_COLOR = "#7d72c6";
const PLUS = "path://M0,5L10,5M5,0L5,10";

const GRIDS = [
  { left: 51, top: 52, width: 519, height: 235 },
  { left: 51, top: 338, width: 519, height: 207 },
  { left: 51, top: 597, width: 519, height: 233 },
  { left: 51, top: 879, width: 517, height: 308 },
  { left: 51, top: 1240, width: 519, height: 301 },
];

function xAxis(i: number, labels: boolean) {
  return {
    type: "value",
    gridIndex: i,
    min: X_MIN,
    max: X_MAX,
    axisLine: { show: true, onZero: false, lineStyle: { color: AXIS_COLOR, width: 1.3 } },
    axisTick: { show: true, customValues: YEAR_TICKS, length: 6, lineStyle: { color: AXIS_COLOR, width: 1.3 } },
    axisLabel: {
      show: labels, customValues: YEAR_TICKS, fontSize: 16, fontFamily: FONT, color: TEXT_COLOR, margin: 7,
      formatter: (v: number) => String(Math.round(v)),
    },
    splitLine: { show: false },
  };
}

function yAxis(i: number, min: number, max: number, extra: any = {}) {
  return {
    type: "value",
    gridIndex: i,
    min,
    max,
    axisLine: { show: true, onZero: false, lineStyle: { color: AXIS_COLOR, width: 1.3 } },
    axisTick: { show: true, length: 6, lineStyle: { color: AXIS_COLOR, width: 1.3 }, ...(extra.tickValues ? { customValues: extra.tickValues } : {}) },
    axisLabel: {
      fontSize: 16,
      fontFamily: FONT,
      color: TEXT_COLOR,
      margin: 3,
      ...(extra.tickValues ? { customValues: extra.tickValues } : {}),
      ...(extra.formatter ? { formatter: extra.formatter } : {}),
    },
    splitLine: { show: false },
    ...(extra.interval ? { interval: extra.interval } : {}),
    ...(extra.position ? { position: extra.position } : {}),
  };
}

function measured(i: number, data: number[][], y = i) {
  return {
    type: "scatter",
    xAxisIndex: i,
    yAxisIndex: y,
    data,
    symbol: PLUS,
    symbolSize: 9,
    itemStyle: { color: "none", borderColor: MEASURED_COLOR, borderWidth: 1.6 },
    z: 2,
    silent: true,
  };
}
function seasonal(i: number, data: number[][], y = i) {
  return {
    type: "line", xAxisIndex: i, yAxisIndex: y, data, showSymbol: false, smooth: 0.35,
    lineStyle: { color: SEASONAL_COLOR, width: 2 }, z: 3, silent: true,
  };
}
function trend(i: number, data: number[][], y = i) {
  return {
    type: "line", xAxisIndex: i, yAxisIndex: y, data, showSymbol: false, smooth: 0.5,
    lineStyle: { color: TREND_COLOR, width: 2.2 }, z: 4, silent: true,
  };
}

function txt(x: number, y: number, text: string, opts: any = {}) {
  return {
    type: "text",
    x,
    y,
    silent: true,
    style: {
      text,
      fill: opts.fill || TEXT_COLOR,
      fontSize: opts.fontSize || 15,
      fontFamily: FONT,
      fontWeight: opts.fontWeight || "normal",
      align: opts.align || "left",
      verticalAlign: "middle",
    },
  };
}
function seg(x1: number, y1: number, x2: number, y2: number, stroke: string, lineWidth: number, lineDash?: number[]) {
  return {
    type: "line",
    silent: true,
    shape: { x1, y1, x2, y2 },
    style: { stroke, lineWidth, ...(lineDash ? { lineDash } : {}) },
  };
}

const hchLabel = (v: number) => (v === 0 ? "0" : v.toFixed(1));

const option = {
  animation: false,
  backgroundColor: "#ffffff",
  grid: GRIDS.map((g) => ({ ...g, containLabel: false })),
  xAxis: [xAxis(0, false), xAxis(1, false), xAxis(2, false), xAxis(3, false), xAxis(4, true)],
  yAxis: [
    yAxis(0, -4, 4, { interval: 1 }),
    yAxis(1, -4, 3, { interval: 1 }),
    yAxis(2, -3.5, 1.1, { tickValues: [-3, -2, -1, 0, 1], formatter: hchLabel }),
    yAxis(3, -5, 7, { tickValues: [-5, -3, -1, 1, 3, 5, 7] }),
    yAxis(3, -80, 20, { interval: 10, position: "right" }),
    yAxis(4, 0, 9, { interval: 1 }),
  ],
  series: [
    measured(0, pcb52Measured),
    seasonal(0, pcb52Seasonal),
    trend(0, pcb52Trend),
    measured(1, pcb101Measured),
    seasonal(1, pcb101Seasonal),
    trend(1, pcb101Trend),
    measured(2, hchStorMeasured),
    seasonal(2, hchStorSeasonal),
    trend(2, hchStorTrend),
    {
      type: "line", xAxisIndex: 3, yAxisIndex: 4, data: alertTemp, showSymbol: false,
      lineStyle: { color: TEMP_COLOR, width: 1.7, type: [4, 2] }, z: 1, silent: true,
    },
    measured(3, hchAlertMeasured),
    seasonal(3, hchAlertSeasonal),
    trend(3, hchAlertTrend),
    {
      type: "line", xAxisIndex: 4, yAxisIndex: 5, showSymbol: false, silent: true, z: 3,
      data: iceYears.map((y, k) => [y, iceMarch[k]]),
      lineStyle: { color: MARCH_COLOR, width: 2.5 },
      markLine: {
        silent: true, symbol: "none", label: { show: false },
        lineStyle: { color: "#a6a6a6", width: 1, type: "solid" },
        data: [{ yAxis: iceReference }],
      },
    },
    {
      type: "line", xAxisIndex: 4, yAxisIndex: 5, showSymbol: false, silent: true, z: 4,
      data: iceYears.map((y, k) => [y, iceSeptember[k]]),
      lineStyle: { color: SEPT_COLOR, width: 2 },
    },
  ],
  graphic: [
    seg(8, 10, 596, 10, "#d4d4d4", 1.5),
    txt(14, 23, "ln concentration PCB-52 in air, pg/m³"),
    txt(539, 42, "Stórhöfði", { fontWeight: 600, align: "right" }),
    txt(14, 315, "ln concentration PCB-101 in air, pg/m³"),
    txt(539, 332, "Stórhöfði", { fontWeight: 600, align: "right" }),
    txt(14, 575, "ln concentration β-HCH in air, pg/m³"),
    txt(539, 583, "Stórhöfði", { fontWeight: 600, align: "right" }),
    txt(14, 853, "ln concentration β-HCH in air, pg/m³"),
    txt(535, 869, "Alert", { fontWeight: 600, align: "right" }),
    txt(601, 852, "T, °C", { align: "right", fontSize: 14 }),
    txt(14, 1218, "Sea ice extent, million km²"),
    txt(501, 1270, "March", { align: "center" }),
    seg(500, 1286, 517, 1331, "#333333", 1),
    txt(455, 1462, "September", { align: "center" }),
    seg(458, 1448, 482, 1361, "#333333", 1),
    // legend
    seg(79, 1585, 89, 1585, MEASURED_COLOR, 1.4),
    seg(84, 1580, 84, 1590, MEASURED_COLOR, 1.4),
    txt(97, 1584, "Measured"),
    seg(196, 1585, 232, 1585, SEASONAL_COLOR, 2),
    txt(237, 1584, "Seasonal Cycle"),
    seg(371, 1585, 406, 1585, TREND_COLOR, 2),
    txt(412, 1584, "Trend"),
    seg(477, 1585, 513, 1585, TEMP_COLOR, 1.6, [4, 2]),
    txt(517, 1584, "T (K)"),
  ],
};

export default function App() {
  const ref = useRef<HTMLDivElement>(null);
  useEffect(() => {
    if (!ref.current) return;
    const chart = echarts.init(ref.current, null, { renderer: "svg" });
    chart.setOption(option as any);
    return () => chart.dispose();
  }, []);
  return (
    <div
      ref={ref}
      style={{ position: "absolute", left: 0, top: 0, width: 604, height: 1593, background: "#ffffff" }}
    />
  );
}
